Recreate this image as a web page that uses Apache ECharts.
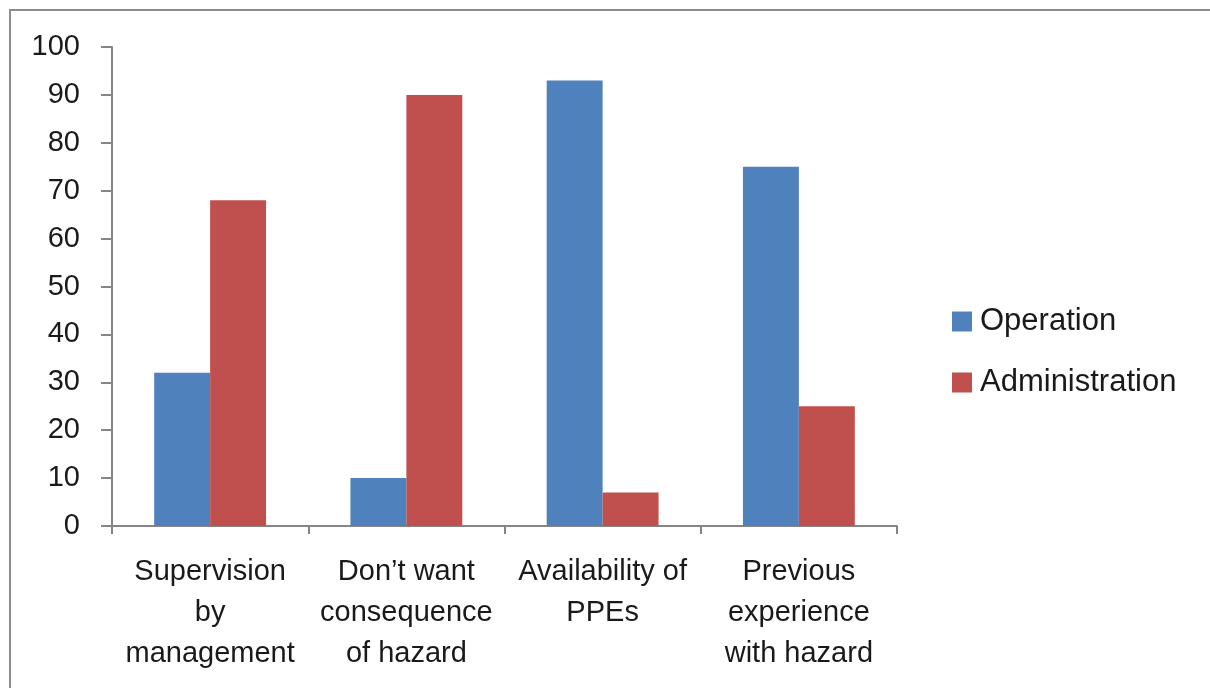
<!DOCTYPE html>
<html>
<head>
<meta charset="utf-8">
<style>
  html, body { margin: 0; padding: 0; background: #fff; }
  #frame { position: absolute; left: 9px; top: 9px; width: 1400px; height: 900px; border: 2px solid #8c8c8c; box-sizing: border-box; }
  #chart { position: absolute; left: 0; top: 0; width: 1210px; height: 688px; }
</style>
<script src="https://cdn.jsdelivr.net/npm/echarts@6/dist/echarts.min.js"></script>
</head>
<body>
<div id="frame"></div>
<div id="chart"></div>
<script>
// Reasons for PPE use, by department (%)
const categories = [
  'Supervision\nby\nmanagement',
  'Don’t want\nconsequence\nof hazard',
  'Availability of\nPPEs',
  'Previous\nexperience\nwith hazard'
];
const operation = [32, 10, 93, 75];
const administration = [68, 90, 7, 25];
const seriesNames = ['Operation', 'Administration'];

const FONT = '"Liberation Sans", Arial, sans-serif';
const TEXT = '#1a1a1a';
const AXIS = '#868686';

const chart = echarts.init(document.getElementById('chart'), null, { renderer: 'canvas' });
chart.setOption({
  animation: false,
  textStyle: { fontFamily: FONT },
  grid: { left: 112, right: 313, top: 47, bottom: 162, containLabel: false },
  legend: {
    orient: 'vertical',
    left: 952,
    top: 306,
    padding: 0,
    icon: 'rect',
    itemWidth: 20,
    itemHeight: 20,
    itemGap: 30,
    textStyle: { fontFamily: FONT, fontSize: 31, color: TEXT, padding: [0, 0, 0, 3] },
    data: seriesNames
  },
  xAxis: {
    type: 'category',
    data: categories,
    axisLine: { lineStyle: { color: AXIS, width: 2 } },
    axisTick: { show: true, length: 8, lineStyle: { color: AXIS, width: 2 } },
    axisLabel: {
      interval: 0,
      margin: 25,
      fontFamily: FONT,
      fontSize: 29,
      lineHeight: 41,
      color: TEXT,
      align: 'center'
    }
  },
  yAxis: {
    type: 'value',
    min: 0,
    max: 100,
    interval: 10,
    splitLine: { show: false },
    axisLine: { show: true, lineStyle: { color: AXIS, width: 2 } },
    axisTick: { show: true, length: 11, lineStyle: { color: AXIS, width: 2 } },
    axisLabel: { margin: 32, fontFamily: FONT, fontSize: 29, color: TEXT }
  },
  series: [
    {
      name: seriesNames[0],
      type: 'bar',
      data: operation,
      barGap: '0%',
      barCategoryGap: '43%',
      itemStyle: { color: '#4F81BD' }
    },
    {
      name: seriesNames[1],
      type: 'bar',
      data: administration,
      barGap: '0%',
      barCategoryGap: '43%',
      itemStyle: { color: '#C0504D' }
    }
  ]
});
</script>
</body>
</html>
